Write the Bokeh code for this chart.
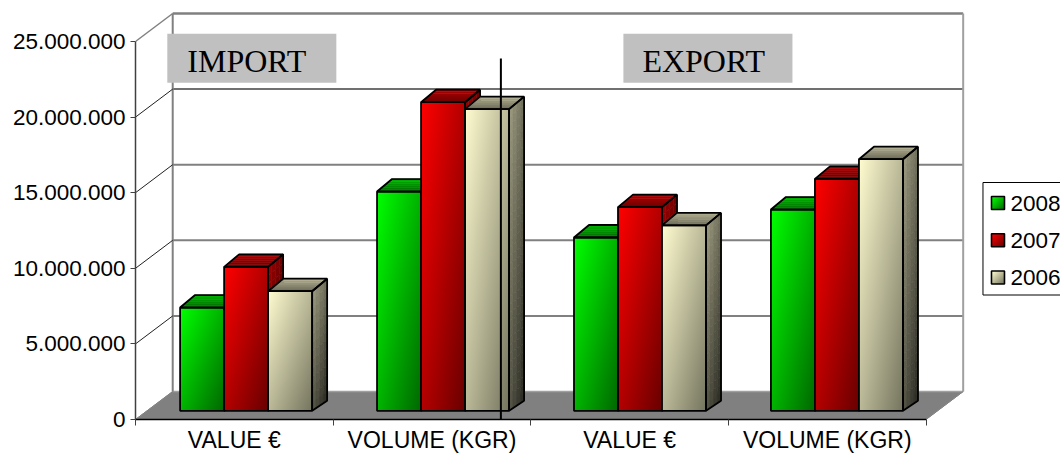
import numpy as np
from bokeh.core.properties import value
from bokeh.embed import file_html
from bokeh.models import Arrow, FixedTicker, Range1d
from bokeh.plotting import figure
from bokeh.resources import INLINE

categories = ["VALUE €", "VOLUME (KGR)", "VALUE €", "VOLUME (KGR)"]
years = ["2008", "2007", "2006"]
values_2008 = [6830000, 14500000, 11460000, 13310000]
values_2007 = [9520000, 20410000, 13470000, 15340000]
values_2006 = [7910000, 19950000, 12260000, 16640000]
y_ticks = [0, 5000000, 10000000, 15000000, 20000000, 25000000]
y_tick_labels = ["0", "5.000.000", "10.000.000", "15.000.000", "20.000.000", "25.000.000"]
panels = ["IMPORT", "EXPORT"]

series = [values_2008, values_2007, values_2006]
bright = [(0, 255, 0), (255, 0, 0), (255, 252, 208)]
dark = [(0, 105, 0), (105, 0, 0), (118, 118, 96)]

# picture pixels <-> data units
LEFT, ZERO, CAT, PXV = 135.2, 419.0, 197.6, 25e6 / 378.0
W, H = 1060, 456
def X(px): return (px - LEFT) / CAT
def Y(px): return (ZERO - px) * PXV

p = figure(width=W, height=H, output_backend="svg", toolbar_location=None,
           x_range=Range1d(0, X(W)), y_range=Range1d(0, Y(0)),
           min_border_left=int(LEFT), min_border_right=0, min_border_top=0,
           min_border_bottom=H - int(ZERO))
p.outline_line_color = None
p.grid.visible = False
p.background_fill_color = "white"

# floor and walls
p.patch([X(135.2), X(172.4), X(962.7), X(925.5)], [Y(419), Y(391), Y(391), Y(419)],
        fill_color="#808080", line_color="#909090", line_width=1)
wall_dy = 28 * PXV
wall_dx = 37.2 / CAT
wx0, wx1 = X(172.4), X(962.7)
grid_cols = ["#a0a0a0", "#808080", "#808080", "#808080", "#404040", "#808080"]
grid_wid = [1.5, 2, 2, 2, 1.5, 2.5]
p.segment([wx0] * 6, [v + wall_dy for v in y_ticks], [wx1] * 6, [v + wall_dy for v in y_ticks],
          line_color=grid_cols, line_width=grid_wid)
p.segment([wx0, wx1], [wall_dy, wall_dy], [wx0, wx1], [25e6 + wall_dy] * 2,
          line_color=["#808080", "#a0a0a0"], line_width=2)
diag_cols = ["#808080", "#202020", "#202020", "#202020", "#202020", "#808080"]
p.segment([0] * 6, y_ticks, [wall_dx] * 6, [v + wall_dy for v in y_ticks],
          line_color=diag_cols, line_width=[1, 1, 1, 1, 1, 1.5])
p.segment([X(925.5)], [0], [wx1], [wall_dy], line_color="#808080", line_width=1)

# gradient helpers
def mix(a, b, t):
    t = np.clip(t, 0, 1)
    return [int(a[k] + (b[k] - a[k]) * t) for k in range(3)]
def hexc(c): return "#%02x%02x%02x" % tuple(c)
def grad_img(c0, c1, w, h):
    w, h = max(int(w), 2), max(int(h), 2)
    xx, yy = np.meshgrid(np.linspace(0, 1, w), np.linspace(1, 0, h))
    t = 0.5 * (xx + yy)
    rgba = np.zeros((h, w, 4), dtype=np.uint8)
    for k in range(3):
        rgba[:, :, k] = c0[k] + (c1[k] - c0[k]) * t
    rgba[:, :, 3] = 255
    return rgba.view(dtype=np.uint32).reshape(h, w)

BASE = 410.3
BAR_W, DX, DY_TOP, DY_BOT = 44.0, 15.0, 12.5, 10.0
for i in range(len(categories)):
    group_left = 245.8 + 196.9 * i - 1.5 * BAR_W
    for j, s in enumerate(series):
        v = s[i]
        left = group_left + j * BAR_W
        right = left + BAR_W
        bot, top = BASE, BASE - v / PXV
        # side cells
        xs, ys, cols = [], [], []
        ny, nx = max(int((bot - top) / 8), 4), 4
        for a in range(ny):
            f0, f1 = a / ny, (a + 1) / ny
            for b in range(nx):
                g0, g1 = b / nx, (b + 1) / nx
                yt0, yt1 = top + (bot - top) * f0, top + (bot - top) * f1
                def pt(g, yy, f):
                    return X(right + DX * g), Y(yy - g * (DY_TOP + (DY_BOT - DY_TOP) * f))
                q = [pt(g0, yt0, f0), pt(g1, yt0, f0), pt(g1, yt1, f1), pt(g0, yt1, f1)]
                xs.append([c[0] for c in q]); ys.append([c[1] for c in q])
                tt = 0.6 * (f0 + 0.5 / ny) + 0.4 * (g0 + 0.5 / nx)
                base_dark = [int(c * 0.62) for c in bright[j]]
                deep = [int(c * 0.16) for c in bright[j]]
                cols.append(hexc(mix(base_dark, deep, tt)))
        p.patches(xs, ys, fill_color=cols, line_color=cols, line_width=0.6)
        # top cells: lighter at the back-left, darker toward the front-right
        xs, ys, cols = [], [], []
        for a in range(6):
            f0, f1 = a / 6, (a + 1) / 6
            q = [(left + DX * f0, top - DY_TOP * f0), (right + DX * f0, top - DY_TOP * f0),
                 (right + DX * f1, top - DY_TOP * f1), (left + DX * f1, top - DY_TOP * f1)]
            xs.append([X(c[0]) for c in q]); ys.append([Y(c[1]) for c in q])
            cols.append(hexc(mix([int(c * 0.42) for c in bright[j]], [int(c * 0.70) for c in bright[j]], (f0 + f1) / 2)))
        p.patches(xs, ys, fill_color=cols, line_color=cols, line_width=0.6)
        # front face
        p.image_rgba(image=[grad_img(bright[j], dark[j], BAR_W, bot - top)],
                     x=[X(left)], y=[Y(bot)], dw=[BAR_W / CAT], dh=[v])
        # outlines
        p.patch([X(right), X(right), X(right + DX), X(right + DX)],
                [Y(bot), Y(top), Y(top - DY_TOP), Y(bot - DY_BOT)],
                fill_color=None, line_color="black", line_width=1.8)
        p.patch([X(left), X(left + DX), X(right + DX), X(right)],
                [Y(top), Y(top - DY_TOP), Y(top - DY_TOP), Y(top)],
                fill_color=None, line_color="black", line_width=1.8)
        p.quad(left=[X(left)], right=[X(right)], top=[Y(top)], bottom=[Y(bot)],
               fill_color=None, line_color="black", line_width=1.8)

# panel labels
TNR = value("Liberation Serif")
for name, l, tx in zip(panels, [167, 623], [187, 642]):
    p.quad(left=[X(l)], right=[X(l + 169)], top=[Y(33.3)], bottom=[Y(82.3)],
           fill_color="#c0c0c0", line_color=None)
    p.text([X(tx)], [Y(60.5)], text=[name], text_font=TNR, text_font_size="32px",
           text_color="black", text_align="left", text_baseline="middle")

# legend
AR = value("Liberation Sans")
p.quad(left=[X(982.5)], right=[X(1075)], top=[Y(182)], bottom=[Y(294.5)],
       fill_color="white", line_color="black", line_width=1)
for k, (yr, yc) in enumerate(zip(years, [202.5, 239.7, 277])):
    p.image_rgba(image=[grad_img(bright[k], dark[k], 13, 13)], x=[X(991)], y=[Y(yc + 6.5)],
                 dw=[13 / CAT], dh=[13 * PXV])
    p.quad(left=[X(991)], right=[X(1004)], top=[Y(yc - 6.5)], bottom=[Y(yc + 6.5)],
           fill_color=None, line_color="black", line_width=1.6)
    p.text([X(1010)], [Y(yc)], text=[yr], text_font=AR, text_font_size="22.5px",
           text_color="black", text_align="left", text_baseline="middle")

# axes
yax = p.yaxis[0]
yax.ticker = FixedTicker(ticks=y_ticks)
yax.major_label_overrides = {float(t): l for t, l in zip(y_ticks, y_tick_labels)}
yax.bounds = (0, 25000000)
yax.axis_line_color = "#404040"; yax.axis_line_width = 1.5
yax.major_tick_line_color = "#404040"; yax.major_tick_line_width = 1
yax.major_tick_in = 0; yax.major_tick_out = 5; yax.minor_tick_out = 0; yax.minor_tick_in = 0
yax.major_label_standoff = 5
yax.major_label_text_font = "Liberation Sans"
yax.major_label_text_font_size = "22.5px"
yax.major_label_text_color = "black"

xax = p.xaxis[0]
centers = [i + 0.5 for i in range(len(categories))]
xax.ticker = FixedTicker(ticks=centers, minor_ticks=list(range(len(categories) + 1)))
xax.major_label_overrides = {c: l for c, l in zip(centers, categories)}
xax.bounds = (0, len(categories))
xax.axis_line_color = "black"; xax.axis_line_width = 1.5
xax.major_tick_in = 0; xax.major_tick_out = 0
xax.minor_tick_in = 0; xax.minor_tick_out = 6
xax.minor_tick_line_color = "#404040"; xax.minor_tick_line_width = 1
xax.major_label_standoff = 1
xax.major_label_text_font = "Liberation Sans"
xax.major_label_text_font_size = "23px"
xax.major_label_text_color = "black"

# divider drawn above everything
p.add_layout(Arrow(end=None, x_start=X(500.5), y_start=Y(58), x_end=X(500.5), y_end=Y(421.6),
                   line_color="black", line_width=2))

open("out.html", "w").write(file_html(p, INLINE))
